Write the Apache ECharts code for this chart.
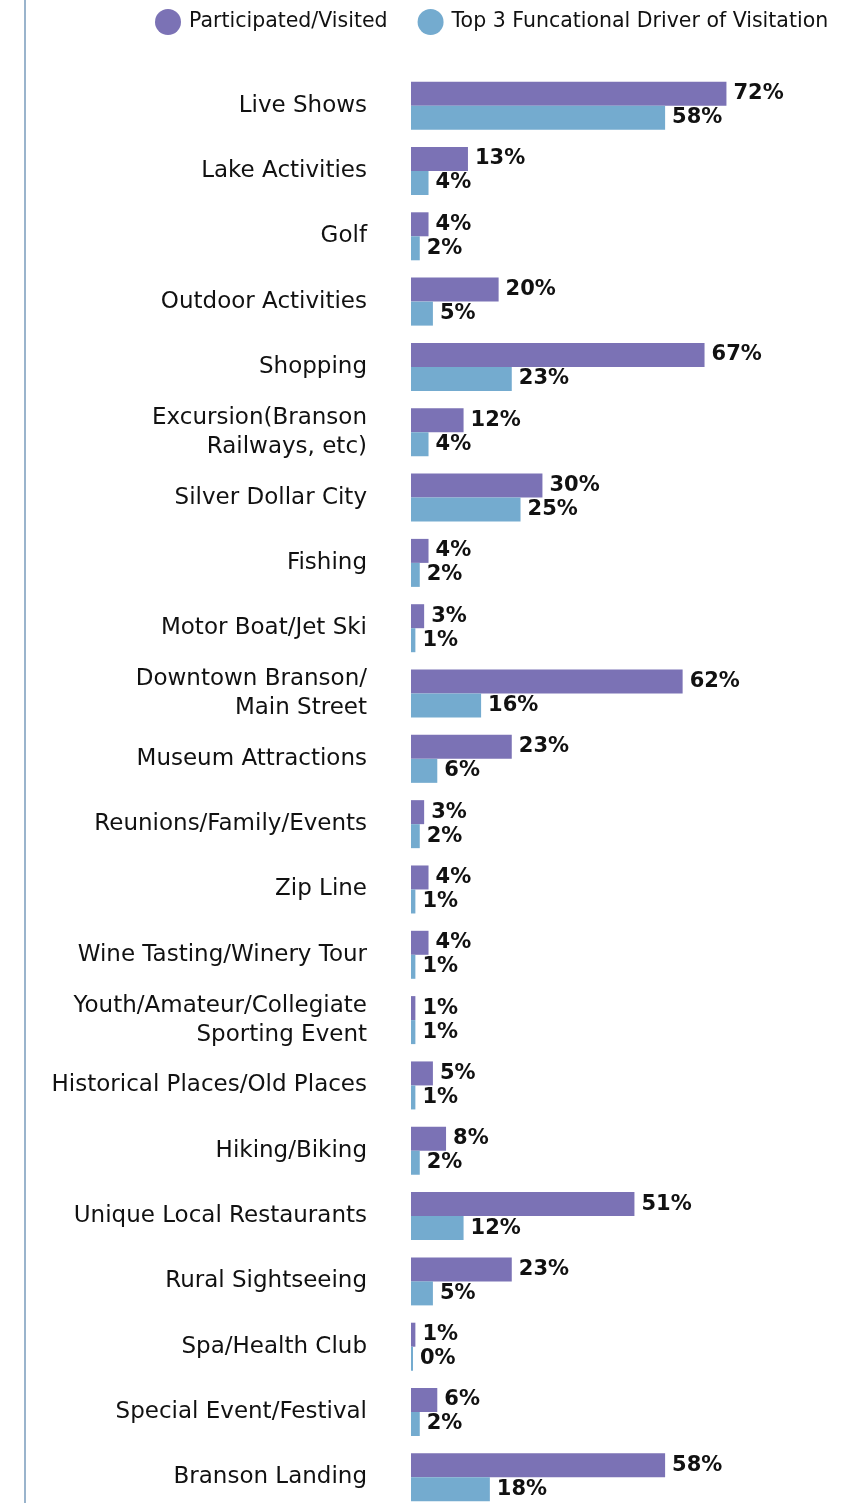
<!DOCTYPE html>
<html>
<head>
<meta charset="utf-8">
<script src="https://cdn.jsdelivr.net/npm/echarts@6/dist/echarts.min.js"></script>
<style>
  html, body { margin: 0; padding: 0; background: #fff; }
  #chart { width: 868px; height: 1503px; }
</style>
</head>
<body>
<div id="chart"></div>
<script>
const categories = [
  'Live Shows', 'Lake Activities', 'Golf', 'Outdoor Activities', 'Shopping',
  'Excursion(Branson\nRailways, etc)', 'Silver Dollar City', 'Fishing', 'Motor Boat/Jet Ski',
  'Downtown Branson/\nMain Street', 'Museum Attractions', 'Reunions/Family/Events', 'Zip Line',
  'Wine Tasting/Winery Tour', 'Youth/Amateur/Collegiate\nSporting Event',
  'Historical Places/Old Places', 'Hiking/Biking', 'Unique Local Restaurants',
  'Rural Sightseeing', 'Spa/Health Club', 'Special Event/Festival', 'Branson Landing'
];
const participated = [72, 13, 4, 20, 67, 12, 30, 4, 3, 62, 23, 3, 4, 4, 1, 5, 8, 51, 23, 1, 6, 58];
const topDriver = [58, 4, 2, 5, 23, 4, 25, 2, 1, 16, 6, 2, 1, 1, 1, 1, 2, 12, 5, 0, 2, 18];
const seriesNames = ['Participated/Visited', 'Top 3 Funcational Driver of Visitation'];

const FONT = '"DejaVu Sans", sans-serif';
const chart = echarts.init(document.getElementById('chart'));

const labelStyle = {
  show: true,
  position: 'right',
  distance: 7,
  formatter: '{c}%',
  color: '#111',
  fontFamily: FONT,
  fontWeight: 'bold',
  fontSize: 21
};

chart.setOption({
  animation: false,
  textStyle: { fontFamily: FONT },
  legend: {
    top: 4,
    left: 150,
    itemWidth: 26,
    itemHeight: 26,
    itemGap: 30,
    icon: 'circle',
    textStyle: { fontFamily: FONT, fontSize: 20.5, color: '#111', padding: [0, 0, 0, 3] },
    data: seriesNames
  },
  grid: {
    left: 411,
    top: 73,
    width: 400,
    height: 1437,
    outerBoundsMode: 'none'
  },
  xAxis: {
    type: 'value',
    min: 0,
    max: 91.3,
    show: false
  },
  yAxis: {
    type: 'category',
    inverse: true,
    data: categories,
    axisLine: { show: false },
    axisTick: { show: false },
    axisLabel: {
      margin: 44,
      color: '#111',
      fontFamily: FONT,
      fontSize: 23,
      lineHeight: 29
    }
  },
  graphic: [{
    type: 'line',
    shape: { x1: 25, y1: 0, x2: 25, y2: 1503 },
    style: { stroke: '#9ab4cc', lineWidth: 2 }
  }],
  series: [
    {
      name: seriesNames[0],
      type: 'bar',
      data: participated,
      barWidth: 24,
      barGap: '0%',
      barMinHeight: 2,
      itemStyle: { color: '#7b72b5' },
      label: labelStyle
    },
    {
      name: seriesNames[1],
      type: 'bar',
      data: topDriver,
      barWidth: 24,
      barMinHeight: 2,
      itemStyle: { color: '#74abcf' },
      label: labelStyle
    }
  ]
});
</script>
</body>
</html>
